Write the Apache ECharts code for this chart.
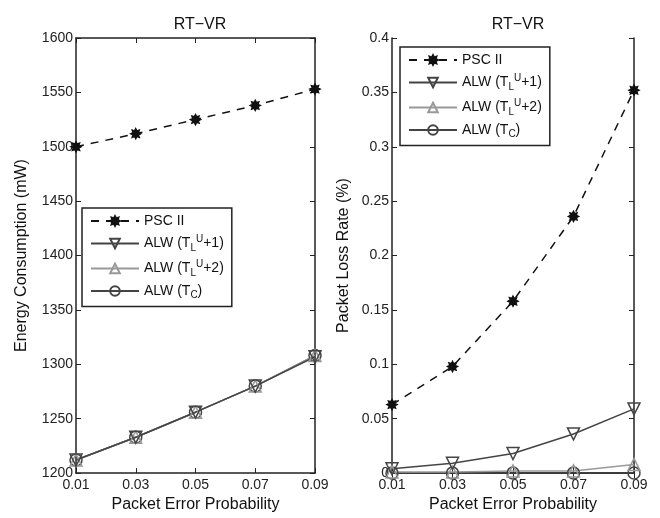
<!DOCTYPE html>
<html><head><meta charset="utf-8">
<script src="https://cdn.jsdelivr.net/npm/echarts@6/dist/echarts.min.js"></script>
<style>html,body{margin:0;padding:0;background:#fff}#c{width:660px;height:518px}</style>
</head><body><div id="c"></div>
<script>
const categories = ['0.01','0.03','0.05','0.07','0.09'];
const seriesNames = ['PSC II','ALW (T_L^U+1)','ALW (T_L^U+2)','ALW (T_C)'];
const energyPSC = [1500, 1512, 1525, 1538, 1553];
const energyALW1 = [1212, 1233, 1256, 1280, 1307];
const energyALW2 = [1212, 1233, 1256, 1280, 1308];
const energyALWC = [1212, 1233, 1256, 1280, 1308];
const lossPSC = [0.063, 0.098, 0.158, 0.236, 0.352];
const lossALW1 = [0.004, 0.009, 0.018, 0.036, 0.059];
const lossALW2 = [0.001, 0.001, 0.002, 0.002, 0.008];
const lossALWC = [0.0, 0.0, 0.0, 0.0, 0.0];
const energyTicks = [1200, 1600, 50];
const lossTicks = [0, 0.4, 0.05];

function starPath(n, r1, r2) {
  let d = '';
  for (let i = 0; i < n * 2; i++) {
    const r = i % 2 ? r2 : r1;
    const a = Math.PI * i / n - Math.PI / 2;
    d += (i ? 'L' : 'M') + (50 + r * Math.cos(a)).toFixed(2) + ' ' + (50 + r * Math.sin(a)).toFixed(2);
  }
  return 'path://' + d + 'Z';
}
const STAR = starPath(8, 50, 30);
const TRI_DOWN = 'path://M0 0 L100 0 L50 90 Z';
const FONT = 'Liberation Sans, Arial, sans-serif';

const styles = [
  { color: '#111', type: [8, 7], symbol: STAR, size: 10, fill: '#111' },
  { color: '#444', type: 'solid', symbol: TRI_DOWN, size: 12, fill: 'none' },
  { color: '#999', type: 'solid', symbol: 'triangle', size: 12, fill: 'none' },
  { color: '#444', type: 'solid', symbol: 'circle', size: 12, fill: 'none' }
];

function mkSeries(idx, data, g) {
  const s = styles[idx];
  return {
    name: seriesNames[idx], type: 'line', xAxisIndex: g, yAxisIndex: g * 2,
    data: data, symbol: s.symbol, symbolSize: s.size, showAllSymbol: true,
    lineStyle: { color: s.color, width: 1.5, type: s.type },
    itemStyle: { color: s.fill === 'none' ? 'rgba(0,0,0,0)' : s.fill, borderColor: s.color, borderWidth: 1.5 },
    emphasis: { disabled: true }, animation: false
  };
}

const rich = {
  a: { fontSize: 14, fontFamily: FONT, color: '#111' },
  sub: { fontSize: 10, fontFamily: FONT, color: '#111', padding: [9, 0, 0, 0] },
  sup: { fontSize: 10, fontFamily: FONT, color: '#111', padding: [0, 0, 9, 0] }
};
function legendFmt(name) {
  if (name === 'PSC II') return '{a|PSC II}';
  if (name === 'ALW (T_C)') return '{a|ALW (T}{sub|C}{a|)}';
  const m = name.match(/\+(\d)\)/);
  return '{a|ALW (T}{sub|L}{sup|U}{a|+' + m[1] + ')}';
}
function mkLegend(left, top) {
  return {
    left: left, top: top, orient: 'vertical', data: seriesNames,
    backgroundColor: '#fff', borderColor: '#222', borderWidth: 1.5,
    padding: [6, 8, 6, 8], itemGap: 6, itemWidth: 48, itemHeight: 12,
    formatter: legendFmt, textStyle: { rich: rich, fontSize: 14, fontFamily: FONT },
    selectedMode: false
  };
}

function xAx(g, pos) {
  return {
    type: 'category', gridIndex: g, data: categories, boundaryGap: false, position: pos,
    axisLine: { show: true, lineStyle: { color: '#222', width: 1.5 } },
    axisTick: { show: true, inside: true, length: 5, lineStyle: { color: '#222' } },
    axisLabel: { show: pos === 'bottom', color: '#222', fontSize: 14, fontFamily: FONT, margin: 5 },
    splitLine: { show: false },
    name: pos === 'bottom' ? 'Packet Error Probability' : '', nameLocation: 'middle', nameGap: 23,
    nameTextStyle: { color: '#111', fontSize: 16, fontFamily: FONT }
  };
}
function yAx(g, pos, t, title, fmt, gap) {
  return {
    type: 'value', gridIndex: g, position: pos, min: t[0], max: t[1], interval: t[2],
    axisLine: { show: true, lineStyle: { color: '#222', width: 1.5 } },
    axisTick: { show: true, inside: true, length: 5, lineStyle: { color: '#222' } },
    axisLabel: { show: pos === 'left', color: '#222', fontSize: 14, fontFamily: FONT, margin: 3, formatter: fmt },
    splitLine: { show: false },
    name: pos === 'left' ? title : '', nameLocation: 'middle', nameGap: gap,
    nameTextStyle: { color: '#111', fontSize: 16, fontFamily: FONT }
  };
}
const lossFmt = v => v === 0 ? '0' : String(+v.toFixed(2));
const energyFmt = v => String(v);

const chart = echarts.init(document.getElementById('c'), null, { renderer: 'canvas' });
chart.setOption({
  backgroundColor: '#fff',
  animation: false,
  title: [
    { text: 'RT\u2212VR', left: 195, top: 12, textAlign: 'center', textStyle: { fontSize: 16, fontWeight: 'normal', color: '#111', fontFamily: FONT } },
    { text: 'RT\u2212VR', left: 513, top: 12, textAlign: 'center', textStyle: { fontSize: 16, fontWeight: 'normal', color: '#111', fontFamily: FONT } }
  ],
  grid: [
    { left: 76, right: 345, top: 38, bottom: 41 },
    { left: 392, right: 26, top: 38, bottom: 41 }
  ],
  legend: [mkLegend(82, 208), mkLegend(400, 47)],
  xAxis: [xAx(0, 'bottom'), xAx(0, 'top'), xAx(1, 'bottom'), xAx(1, 'top')].map((a, i) => Object.assign(a, { gridIndex: i < 2 ? 0 : 1 })),
  yAxis: [
    yAx(0, 'left', energyTicks, 'Energy Consumption (mW)', energyFmt, 46),
    yAx(0, 'right', energyTicks, '', null, 0),
    yAx(1, 'left', lossTicks, 'Packet Loss Rate (%)', lossFmt, 40),
    yAx(1, 'right', lossTicks, '', null, 0)
  ],
  series: [
    Object.assign(mkSeries(3, energyALWC, 0), { xAxisIndex: 0, yAxisIndex: 0 }),
    Object.assign(mkSeries(2, energyALW2, 0), { xAxisIndex: 0, yAxisIndex: 0 }),
    Object.assign(mkSeries(1, energyALW1, 0), { xAxisIndex: 0, yAxisIndex: 0 }),
    Object.assign(mkSeries(0, energyPSC, 0), { xAxisIndex: 0, yAxisIndex: 0 }),
    Object.assign(mkSeries(3, lossALWC, 1), { xAxisIndex: 2, yAxisIndex: 2 }),
    Object.assign(mkSeries(2, lossALW2, 1), { xAxisIndex: 2, yAxisIndex: 2 }),
    Object.assign(mkSeries(1, lossALW1, 1), { xAxisIndex: 2, yAxisIndex: 2 }),
    Object.assign(mkSeries(0, lossPSC, 1), { xAxisIndex: 2, yAxisIndex: 2 })
  ]
});
</script></body></html>
